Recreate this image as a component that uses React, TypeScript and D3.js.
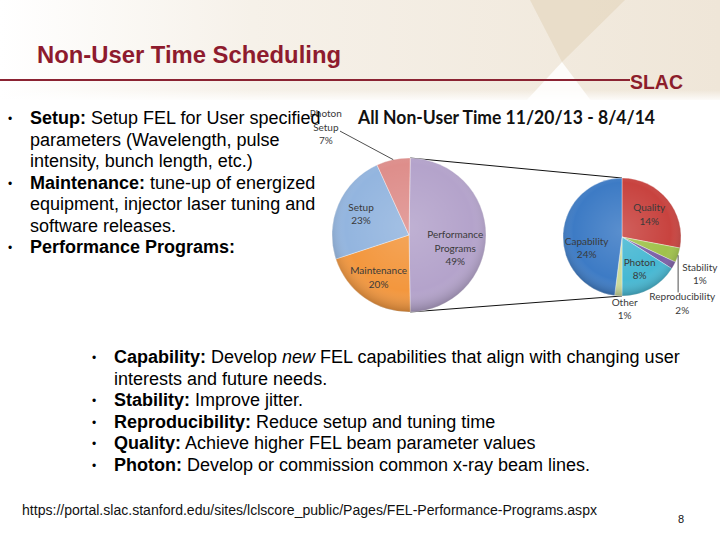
import React from "react";
import * as d3 from "d3";

// main pie: all non-user time
const mainCategories = ["Performance Programs", "Maintenance", "Setup", "Photon Setup"];
const mainValues = [49, 20, 23, 7];
const mainColors = ["#B4A3CB", "#F3973E", "#93B5DF", "#DE8E8B"];

// secondary pie: performance programs breakdown
const subCategories = ["Quality", "Reproducibility", "Stability", "Photon", "Other", "Capability"];
const subValues = [14, 2, 1, 8, 1, 24];
const subColors = ["#C8433F", "#A0C24B", "#7C60A6", "#47B8D3", "#CCDB9B", "#3D7BC5"];

const chartTitle = "All Non-User Time 11/20/13 - 8/4/14";

type Seg = { t: string; s?: "b" | "i" };
const topLines: { bullet: boolean; segs: Seg[] }[] = [
    { bullet: true, segs: [{ t: "Setup:", s: "b" }, { t: " Setup FEL for User specified" }] },
    { bullet: false, segs: [{ t: "parameters (Wavelength, pulse" }] },
    { bullet: false, segs: [{ t: "intensity, bunch length, etc.)" }] },
    { bullet: true, segs: [{ t: "Maintenance:", s: "b" }, { t: " tune-up of energized" }] },
    { bullet: false, segs: [{ t: "equipment, injector laser tuning and" }] },
    { bullet: false, segs: [{ t: "software releases." }] },
    { bullet: true, segs: [{ t: "Performance Programs:", s: "b" }] },
];
const bottomLines: { bullet: boolean; segs: Seg[] }[] = [
    { bullet: true, segs: [{ t: "Capability:", s: "b" }, { t: " Develop " }, { t: "new", s: "i" }, { t: " FEL capabilities that align with changing user" }] },
    { bullet: false, segs: [{ t: "interests and future needs." }] },
    { bullet: true, segs: [{ t: "Stability:", s: "b" }, { t: " Improve jitter." }] },
    { bullet: true, segs: [{ t: "Reproducibility:", s: "b" }, { t: " Reduce setup and tuning time" }] },
    { bullet: true, segs: [{ t: "Quality:", s: "b" }, { t: " Achieve higher FEL beam parameter values" }] },
    { bullet: true, segs: [{ t: "Photon:", s: "b" }, { t: " Develop or commission common x-ray beam lines." }] },
];

const polar = (cx: number, cy: number, r: number, a: number): [number, number] =>
    [cx + r * Math.sin(a), cy - r * Math.cos(a)];

const labelFont = "Lato, 'Open Sans', sans-serif";
const bodyFont = "'Liberation Sans', Arial, sans-serif";

export default function App() {
    const main = { cx: 409, cy: 235, r: 77 };
    const sub = { cx: 622, cy: 237, r: 59 };

    // Excel pie-of-pie: the split slice is centred on 3 o'clock
    const mainTotal = d3.sum(mainValues);
    const perfSpan = (mainValues[0] / mainTotal) * 2 * Math.PI;
    const start = Math.PI / 2 - perfSpan / 2;
    const mainArcs = d3.pie<number>().sort(null).startAngle(start).endAngle(start + 2 * Math.PI)(mainValues);
    const subArcs = d3.pie<number>().sort(null)(subValues);

    const mainArc = d3.arc<d3.PieArcDatum<number>>().innerRadius(0).outerRadius(main.r);
    const subArc = d3.arc<d3.PieArcDatum<number>>().innerRadius(0).outerRadius(sub.r);

    const mid = (d: d3.PieArcDatum<number>) => (d.startAngle + d.endAngle) / 2;

    // connector lines
    const c1a = polar(main.cx, main.cy, main.r, mainArcs[0].startAngle);
    const c1b = polar(sub.cx, sub.cy, sub.r, 0);
    const c2a = polar(main.cx, main.cy, main.r, mainArcs[0].endAngle);
    const c2b = polar(sub.cx, sub.cy, sub.r, Math.PI);

    const fmt = (v: number) => `${v}%`;

    const labelBlock = (lines: string[], x: number, y: number, key: string, anchor = "middle") => {
        const lh = 13.5;
        const y0 = y - ((lines.length - 1) * lh) / 2 + 3.5;
        return (
            <text key={key} x={x} y={y0} fontFamily={labelFont} fontSize={10} fill="#3a3a3a" textAnchor={anchor}>
                {lines.map((l, i) => (
                    <tspan key={i} x={x} y={y0 + i * lh}>{l}</tspan>
                ))}
            </text>
        );
    };

    // main pie labels
    const mainLabelEls = mainArcs.map((d, i) => {
        const name = mainCategories[i];
        const a = mid(d);
        if (name === "Photon Setup") {
            const [ex, ey] = polar(main.cx, main.cy, main.r, a);
            const [lx, ly] = polar(main.cx, main.cy, main.r * 1.62, a - 0.38);
            const [tx, ty] = polar(main.cx, main.cy, main.r * 1.77, a - 0.45);
            return (
                <g key={name}>
                    <line x1={ex} y1={ey} x2={lx} y2={ly} stroke="#222" strokeWidth={0.8} />
                    {labelBlock(["Photon", "Setup", fmt(mainValues[i])], tx, ty, name)}
                </g>
            );
        }
        const k = name === "Performance Programs" ? 0.6 : 0.68;
        const [x, y] = polar(main.cx, main.cy, main.r * k, a);
        const dy = name === "Performance Programs" ? 13 : 0;
        const lines = name === "Performance Programs" ? ["Performance", "Programs", fmt(mainValues[i])] : [name, fmt(mainValues[i])];
        return labelBlock(lines, x, y + dy, name);
    });

    const subLabelEls = subArcs.map((d, i) => {
        const name = subCategories[i];
        const a = mid(d);
        const lines = [name, fmt(subValues[i])];
        if (name === "Stability") {
            const [x, y] = polar(sub.cx, sub.cy, sub.r * 1.46, a - 0.06);
            return labelBlock(lines, x, y, name);
        }
        if (name === "Reproducibility") {
            const [ex, ey] = polar(sub.cx, sub.cy, sub.r, a);
            const [x, y] = polar(sub.cx, sub.cy, sub.r * 1.52, a + 0.52);
            return (
                <g key={name}>
                    <line x1={ex} y1={ey} x2={ex} y2={y - 11} stroke="#222" strokeWidth={0.8} />
                    {labelBlock(lines, x, y, name)}
                </g>
            );
        }
        if (name === "Other") {
            const [x, y] = polar(sub.cx, sub.cy, sub.r * 1.22, a - 0.1);
            return labelBlock(lines, x, y, name);
        }
        const k = name === "Photon" ? 0.62 : 0.6;
        const [x, y] = polar(sub.cx, sub.cy, sub.r * k, a);
        const dy = name === "Capability" ? 13 : 0;
        return labelBlock(lines, x, y + dy, name);
    });

    const renderLines = (rows: typeof topLines, bx: number, tx: number, y0: number, lh: number) =>
        rows.map((row, i) => (
            <g key={i}>
                {row.bullet && (
                    <text x={bx} y={y0 + i * lh - 1} fontFamily={bodyFont} fontSize={12}>•</text>
                )}
                <text x={tx} y={y0 + i * lh} fontFamily={bodyFont} fontSize={18} fill="#000">
                    {row.segs.map((s, j) => (
                        <tspan key={j} fontWeight={s.s === "b" ? "bold" : "normal"} fontStyle={s.s === "i" ? "italic" : "normal"}>{s.t}</tspan>
                    ))}
                </text>
            </g>
        ));

    return (
        <svg width={720} height={540} style={{ position: "absolute", left: 0, top: 0 }} xmlSpace="preserve">
            <defs>
                <linearGradient id="hdr" x1="0" x2="1" y1="0" y2="0">
                    <stop offset="0%" stopColor="#FFFFFF" />
                    <stop offset="35%" stopColor="#F6F1E9" />
                    <stop offset="100%" stopColor="#EFE6D8" />
                </linearGradient>
                <linearGradient id="hdrFade" x1="0" x2="0" y1="0" y2="1">
                    <stop offset="0%" stopColor="#FFFFFF" stopOpacity={0} />
                    <stop offset="100%" stopColor="#FFFFFF" stopOpacity={1} />
                </linearGradient>
                <radialGradient id="shade" cx="50%" cy="45%" r="55%">
                    <stop offset="0%" stopColor="#FFFFFF" stopOpacity={0.15} />
                    <stop offset="75%" stopColor="#FFFFFF" stopOpacity={0} />
                    <stop offset="100%" stopColor="#000000" stopOpacity={0.22} />
                </radialGradient>
            </defs>
            <rect x={0} y={0} width={720} height={540} fill="#FFFFFF" />
            <rect x={0} y={0} width={720} height={100} fill="url(#hdr)" />
            <rect x={0} y={90} width={720} height={12} fill="url(#hdrFade)" />
            <polygon points="530,0 625,0 562,62" fill="#E5D8C2" opacity={0.75} />
            <polygon points="562,62 525,102 592,102" fill="#FFFFFF" opacity={0.85} />

            <text x={37} y={63} fontFamily={bodyFont} fontWeight="bold" fontSize={23} fill="#8E1B2E" textLength={304} lengthAdjust="spacingAndGlyphs">Non-User Time Scheduling</text>
            <line x1={0} y1={80} x2={630} y2={80} stroke="#8B2332" strokeWidth={2} />
            <text x={630} y={89} fontFamily={bodyFont} fontWeight="bold" fontSize={20} fill="#8C1D2B" textLength={53} lengthAdjust="spacingAndGlyphs">SLAC</text>

            {/* chart */}
            <text x={358} y={124} fontFamily={labelFont} fontWeight="bold" fontSize={18} fill="#111" textLength={297} lengthAdjust="spacingAndGlyphs">{chartTitle}</text>

            <line x1={c1a[0]} y1={c1a[1]} x2={c1b[0]} y2={c1b[1]} stroke="#111" strokeWidth={1} />
            <line x1={c2a[0]} y1={c2a[1]} x2={c2b[0]} y2={c2b[1]} stroke="#111" strokeWidth={1} />

            <g transform={`translate(${main.cx},${main.cy})`}>
                {mainArcs.map((d, i) => (
                    <path key={i} d={mainArc(d) || ""} fill={mainColors[i]} stroke="#FFFFFF" strokeOpacity={0.45} strokeWidth={0.8} />
                ))}
                <circle r={main.r} fill="url(#shade)" />
            </g>
            <g transform={`translate(${sub.cx},${sub.cy})`}>
                {subArcs.map((d, i) => (
                    <path key={i} d={subArc(d) || ""} fill={subColors[i]} stroke="#FFFFFF" strokeOpacity={0.45} strokeWidth={0.8} />
                ))}
                <circle r={sub.r} fill="url(#shade)" />
            </g>
            {mainLabelEls}
            {subLabelEls}

            {/* body text */}
            {renderLines(topLines, 8, 30, 124, 21.5)}
            {renderLines(bottomLines, 92, 114, 363, 21.6)}

            <text x={22} y={515} fontFamily={bodyFont} fontSize={14} fill="#111" textLength={575} lengthAdjust="spacingAndGlyphs">https://portal.slac.stanford.edu/sites/lclscore_public/Pages/FEL-Performance-Programs.aspx</text>
            <text x={678} y={523} fontFamily={bodyFont} fontSize={11} fill="#111">8</text>
        </svg>
    );
}
